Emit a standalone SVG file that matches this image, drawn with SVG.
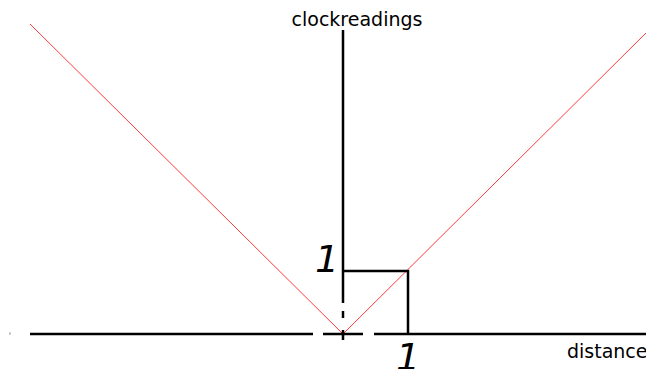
<svg xmlns="http://www.w3.org/2000/svg" width="646" height="369" viewBox="0 0 646 369">
<style>
.ax{stroke:#000;stroke-width:2.5;fill:none}
.red{stroke:#ff3b3b;stroke-width:1;fill:none}
.lbl{font-family:"DejaVu Sans",sans-serif;fill:#000;font-size:19px}
.one{font-family:"DejaVu Sans",sans-serif;font-style:italic;font-size:38px;fill:#000}
</style>
<rect width="646" height="369" fill="#fff"/>
<g id="connectors">
<line class="red" x1="30" y1="24" x2="343" y2="334"/>
<line class="red" x1="343" y1="334" x2="646" y2="33"/>
</g>
<g id="axes">
<line class="ax" x1="30" y1="334" x2="313" y2="334"/>
<line class="ax" x1="323" y1="334" x2="363" y2="334"/>
<line class="ax" x1="374" y1="334" x2="646" y2="334"/>
<line class="ax" x1="343" y1="30" x2="343" y2="303"/>
<line class="ax" x1="343" y1="311" x2="343" y2="318"/>
<line class="ax" x1="343" y1="330" x2="343" y2="340"/>
<line x1="10" y1="332" x2="10" y2="335" stroke="#999" stroke-width="1"/>
</g>
<g id="square">
<polyline class="ax" points="343,271 408,271 408,334"/>
</g>
<g id="labels">
<text class="lbl" x="357" y="26" text-anchor="middle">clockreadings</text>
<text class="lbl" x="567" y="358">distance</text>
<text class="one" x="315" y="272">1</text>
<text class="one" x="396" y="370">1</text>
</g>
</svg>
